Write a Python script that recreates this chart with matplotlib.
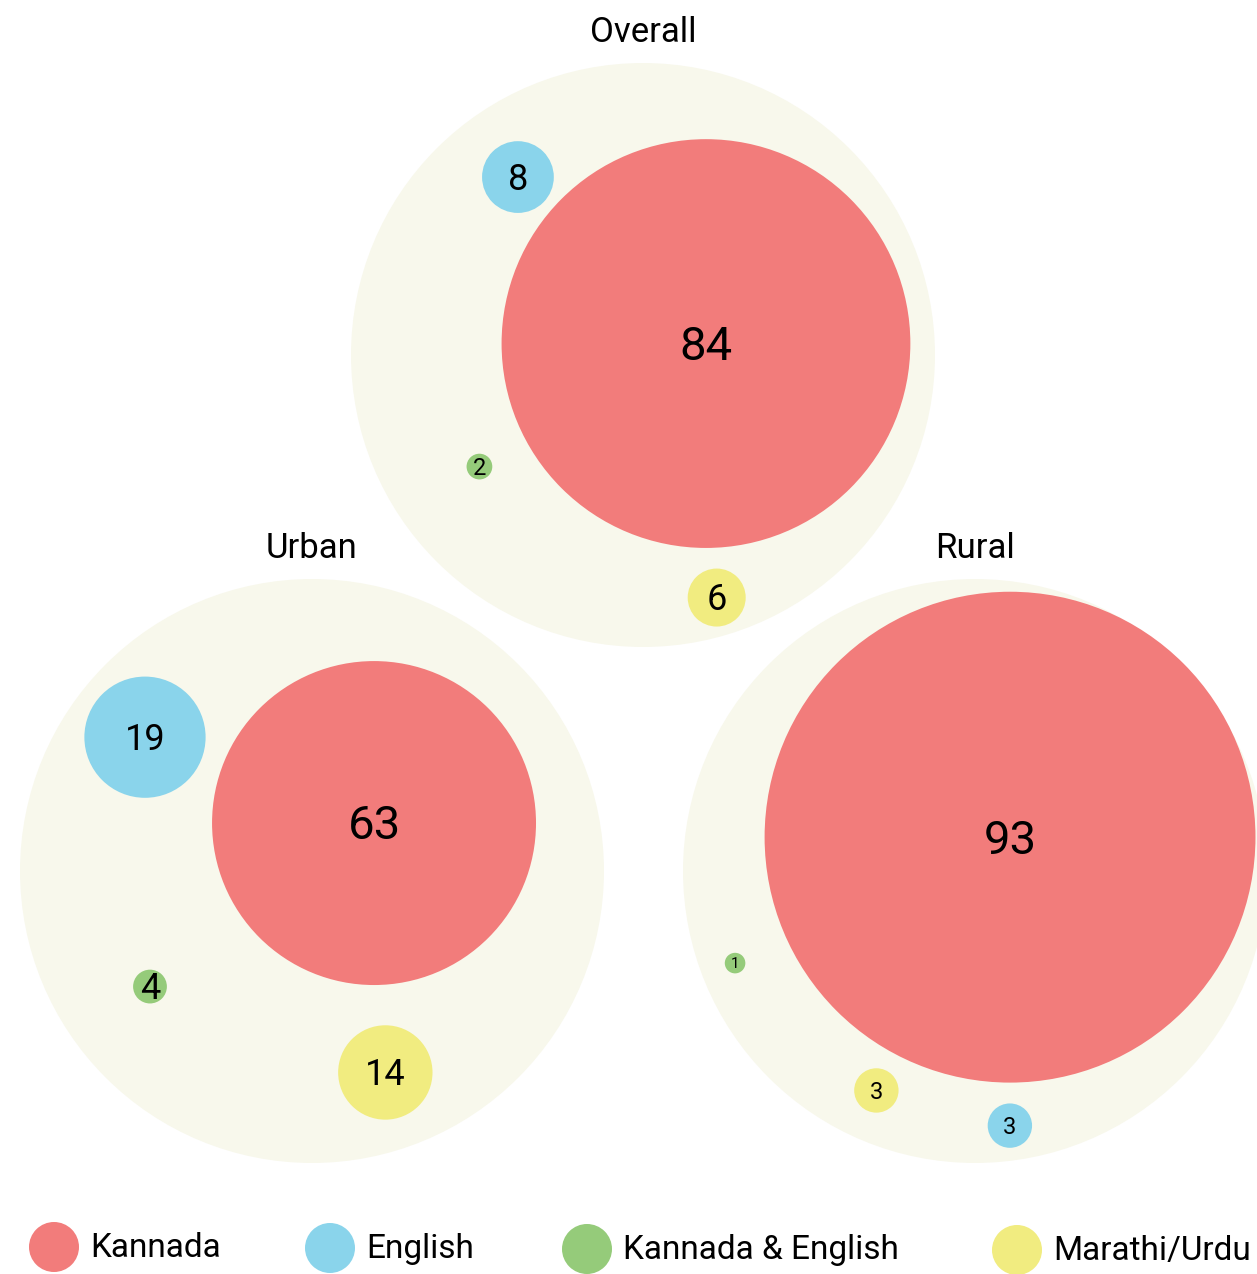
import numpy as np
import matplotlib
matplotlib.use("Agg")
import matplotlib.pyplot as plt
from matplotlib.patches import Circle

plt.rcParams['font.family'] = ['Roboto', 'DejaVu Sans']

# datos: porcentaje por idioma en cada grupo
groups = ["Overall", "Urban", "Rural"]
languages = ["Kannada", "English", "Kannada & English", "Marathi/Urdu"]
overall = [84, 8, 2, 6]
urban = [63, 19, 4, 14]
rural = [93, 3, 1, 3]
values = {"Overall": overall, "Urban": urban, "Rural": rural}

colors = ["#F27C7B", "#8AD4EB", "#95CB7A", "#F1EC80"]
parent_color = "#F8F8EC"

# layout (pixeles de la figura, y hacia abajo)
W, H = 1257, 1274
R = 292
centers = {"Overall": (643, 355), "Urban": (312, 871), "Rural": (975, 871)}
# escala de cada grupo: radio = k * v**p
scale = {"Overall": (7.7, 0.74), "Urban": (5.42, 0.82), "Rural": (10.28, 0.70)}
# posicion de cada burbuja: (angulo en grados, distancia al centro del grupo)
polar = {
    "Overall": [(-10.3, 64), (-125.1, 217.5), (145.7, 198), (73.1, 253.5)],
    "Urban": [(-37.7, 78.4), (-141.3, 214), (144.5, 199), (70.0, 214.4)],
    "Rural": [(-44.0, 48.7), (82.2, 257), (159.0, 257), (114.2, 240.6)],
}


def radius(v, g):
    k, p = scale[g]
    return k * v ** p


def label_size(v):
    if v >= 50:
        return 34
    elif v >= 4:
        return 26
    elif v >= 2:
        return 17
    return 11


fig = plt.figure(figsize=(W / 100, H / 100), dpi=100)
ax = fig.add_axes([0, 0, 1, 1])
ax.set_xlim(0, W)
ax.set_ylim(H, 0)
ax.set_aspect('equal')
ax.axis('off')

for g in groups:
    cx, cy = centers[g]
    ax.add_patch(Circle((cx, cy), R, color=parent_color, lw=0, zorder=1))
    ax.text(cx, cy - R - 30, g, ha='center', va='center', fontsize=25, zorder=5)
    for i, v in enumerate(values[g]):
        ang, dist = polar[g][i]
        x = cx + dist * np.cos(np.radians(ang))
        y = cy + dist * np.sin(np.radians(ang))
        r = radius(v, g)
        ax.add_patch(Circle((x, y), r, color=colors[i], lw=0, zorder=2))
        fs = label_size(v)
        ax.text(x, y + 0.1 * fs, str(v), ha='center', va='center',
                fontsize=fs, zorder=3)

# leyenda
legend_x = [54, 330, 587, 1017]
legend_y = [1247, 1248, 1249, 1250]
for i, lang in enumerate(languages):
    ax.add_patch(Circle((legend_x[i], legend_y[i]), 25, color=colors[i],
                        lw=0, clip_on=False))
    ax.text(legend_x[i] + 36, legend_y[i] + 1, lang, ha='left', va='center',
            fontsize=24)

plt.savefig('out.png', dpi=100)
